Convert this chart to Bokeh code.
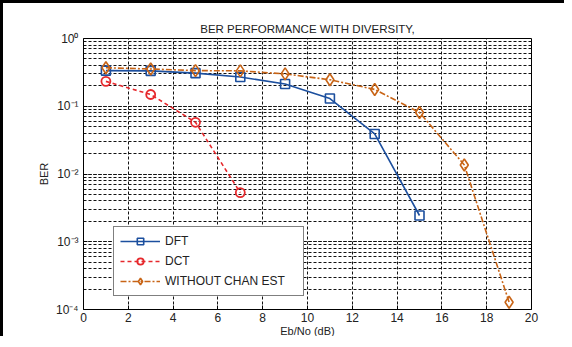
from bokeh.plotting import figure
from bokeh.models import (ColumnDataSource, Legend, LegendItem, FixedTicker,
                          LogTicker, CustomJSTickFormatter, Range1d)
from bokeh.embed import file_html
from bokeh.resources import INLINE

# ---- data ----
ebno_dft = [1, 3, 5, 7, 9, 11, 13, 15]
ber_dft = [0.336, 0.333, 0.308, 0.27, 0.213, 0.13, 0.039, 0.00244]

ebno_dct = [1, 3, 5, 7]
ber_dct = [0.233, 0.149, 0.058, 0.0053]

ebno_wo = [1, 3, 5, 7, 9, 11, 13, 15, 17, 19]
ber_wo = [0.37, 0.355, 0.336, 0.333, 0.30, 0.246, 0.177, 0.081, 0.0136, 0.000128]

x_ticks = [0, 2, 4, 6, 8, 10, 12, 14, 16, 18, 20]
title_text = "BER PERFORMANCE WITH DIVERSITY,"
x_label = "Eb/No (dB)"
y_label = "BER"
legend_labels = ["DFT", "DCT", "WITHOUT CHAN EST"]

FONT = "Liberation Sans"
C_DFT = "#1c4f9e"
C_DCT = "#e6282c"
C_WO = "#c86416"

p = figure(width=564, height=336, output_backend="svg", toolbar_location=None,
           y_axis_type="log", x_range=Range1d(0, 20), y_range=Range1d(1e-4, 1),
           min_border_left=80, min_border_right=36, min_border_top=35,
           min_border_bottom=30,
           styles={"border-left": "3px solid black", "border-top": "3px solid black"})

p.title.text = title_text
p.title.align = "center"
p.title.text_font = FONT
p.title.text_font_size = "11.5px"
p.title.text_font_style = "normal"
p.title.text_color = "#222222"
p.title.offset = 0
p.title.standoff = 8

p.outline_line_color = "black"
p.outline_line_width = 1
p.background_fill_color = "white"
p.border_fill_color = "white"

# axes
p.xaxis.ticker = FixedTicker(ticks=x_ticks)
p.yaxis.ticker = LogTicker(num_minor_ticks=10)
p.yaxis.formatter = CustomJSTickFormatter(code="""
const sup = {'-':'\u207b','0':'\u2070','1':'\u00b9','2':'\u00b2','3':'\u00b3','4':'\u2074','5':'\u2075','6':'\u2076','7':'\u2077','8':'\u2078','9':'\u2079'};
const e = Math.round(Math.log10(tick));
return '10' + String(e).split('').map(c => sup[c]).join('');
""")
for ax in (p.xaxis[0], p.yaxis[0]):
    ax.axis_line_color = None
    ax.major_tick_in = 4
    ax.major_tick_out = 0
    ax.minor_tick_in = 0
    ax.minor_tick_out = 0
    ax.major_tick_line_color = "black"
    ax.major_label_text_font = FONT
    ax.major_label_text_font_size = "12px"
    ax.major_label_text_color = "#222222"
    ax.axis_label_text_font = FONT
    ax.axis_label_text_font_size = "11px"
    ax.axis_label_text_font_style = "normal"
    ax.axis_label_text_color = "#222222"
p.xaxis.axis_label = x_label
p.yaxis.axis_label = y_label
p.xaxis.major_label_standoff = 3
p.xaxis.axis_label_standoff = 0
p.yaxis.major_label_standoff = 5
p.yaxis.axis_label_standoff = 3

# grid
p.xgrid.grid_line_color = "#111111"
p.xgrid.grid_line_dash = "3 2"
p.xgrid.grid_line_width = 1
p.ygrid.grid_line_color = "#111111"
p.ygrid.grid_line_dash = "3 2"
p.ygrid.grid_line_width = 1
p.ygrid.minor_grid_line_color = "#111111"
p.ygrid.minor_grid_line_dash = "3 2"
p.ygrid.minor_grid_line_width = 1

# series
s_dft = ColumnDataSource(dict(x=ebno_dft, y=ber_dft))
s_dct = ColumnDataSource(dict(x=ebno_dct, y=ber_dct))
s_wo = ColumnDataSource(dict(x=ebno_wo, y=ber_wo))

l1 = p.line("x", "y", source=s_dft, color=C_DFT, line_width=1.6)
m1 = p.scatter("x", "y", source=s_dft, marker="square", size=9,
               line_color=C_DFT, fill_color=None, line_width=1.6)
l2 = p.line("x", "y", source=s_dct, color=C_DCT, line_width=1.6, line_dash="4 3")
m2 = p.scatter("x", "y", source=s_dct, marker="circle", size=9,
               line_color=C_DCT, fill_color=None, line_width=1.8)
l3 = p.line("x", "y", source=s_wo, color=C_WO, line_width=1.6, line_dash="6 2 2 2")
m3 = p.scatter("x", "y", source=s_wo, marker="diamond", size=12,
               line_color=C_WO, fill_color=None, line_width=1.6)

legend = Legend(items=[
    LegendItem(label=legend_labels[0], renderers=[l1, m1]),
    LegendItem(label=legend_labels[1], renderers=[l2, m2]),
    LegendItem(label=legend_labels[2], renderers=[l3, m3]),
], location=(30, 13))
legend.border_line_color = "black"
legend.border_line_width = 1
legend.background_fill_alpha = 1
legend.label_text_font = FONT
legend.label_text_font_size = "12px"
legend.label_text_color = "#222222"
legend.glyph_width = 40
legend.glyph_height = 16
legend.label_standoff = 5
legend.label_width = 132
legend.spacing = 4
legend.padding = 6
legend.margin = 0
legend.label_height = 16
p.add_layout(legend, "center")

open("out.html", "w").write(file_html(p, INLINE))
